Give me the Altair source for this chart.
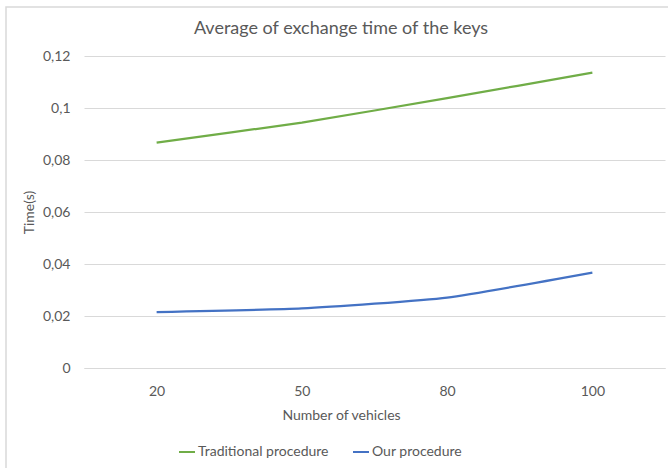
import altair as alt
import pandas as pd

vehicles = ["20", "50", "80", "100"]
traditional = [0.0867, 0.0944, 0.1038, 0.1136]
ours = [0.0215, 0.0229, 0.0271, 0.0367]
series_names = ["Traditional procedure", "Our procedure"]
series_colors = ["#70AD47", "#4472C4"]
y_ticks = [0, 0.02, 0.04, 0.06, 0.08, 0.10, 0.12]
chart_title = "Average of exchange time of the keys"

rows = []
for name, vals in zip(series_names, [traditional, ours]):
    for v, t in zip(vehicles, vals):
        rows.append({"Number of vehicles": v, "Time": t, "Series": name})
df = pd.DataFrame(rows)

FONT = "Lato"
GRAY = "#595959"

lines = alt.Chart(df).mark_line(strokeWidth=2.25, interpolate="cardinal", tension=0.5).encode(
    x=alt.X("Number of vehicles:N", sort=vehicles,
            scale=alt.Scale(type="point", padding=0.5),
            axis=alt.Axis(title="Number of vehicles", labelAngle=0, ticks=False, tickSize=0,
                          labelPadding=16, labelBaseline="top", domain=True, domainColor="#D9D9D9",
                          titleBaseline="middle", titleY=47, titleX=257, titleAlign="center",
                          titleFontWeight="normal",
                          titleFontSize=14, titleColor=GRAY, labelColor=GRAY, labelFontSize=14)),
    y=alt.Y("Time:Q", scale=alt.Scale(domain=[0, 0.12], nice=False),
            axis=alt.Axis(title="Time(s)", values=y_ticks, ticks=False, tickSize=0, domain=False,
                          labelExpr="replace(format(datum.value, '~g'), '.', ',')",
                          labelPadding=14, gridColor="#D9D9D9",
                          titleX=-55, titleY=156, titleAngle=-90, titleBaseline="middle",
                          titleAlign="center", titleFontWeight="normal", titleFontSize=14,
                          titleColor=GRAY, labelColor=GRAY, labelFontSize=14)),
    color=alt.Color("Series:N", sort=series_names,
                    scale=alt.Scale(domain=series_names, range=series_colors),
                    legend=alt.Legend(title=None, orient="none", direction="horizontal",
                                      legendX=94, legendY=387, symbolType="stroke",
                                      symbolSize=256, symbolStrokeWidth=2, labelOffset=2,
                                      columnPadding=20, labelFontSize=14, labelColor=GRAY)),
)

deco = pd.DataFrame({"t": [chart_title]})

border = alt.Chart(deco).mark_rect(
    fill=None, stroke="#D9D9D9", strokeWidth=1.5, clip=False
).encode(x=alt.value(-78), y=alt.value(-49), x2=alt.value(600), y2=alt.value(430))

title = alt.Chart(deco).mark_text(
    fontSize=18, color=GRAY, align="center", baseline="alphabetic", font=FONT
).encode(text="t:N", x=alt.value(257), y=alt.value(-22))

chart = alt.layer(border, title, lines).properties(
    width=581, height=312,
    autosize=alt.AutoSizeParams(type="none"),
    padding={"left": 84, "top": 56, "right": 3, "bottom": 100},
).configure(font=FONT).configure_view(stroke=None)

chart.save("out.html", embed_options={"renderer": "svg", "actions": False})
